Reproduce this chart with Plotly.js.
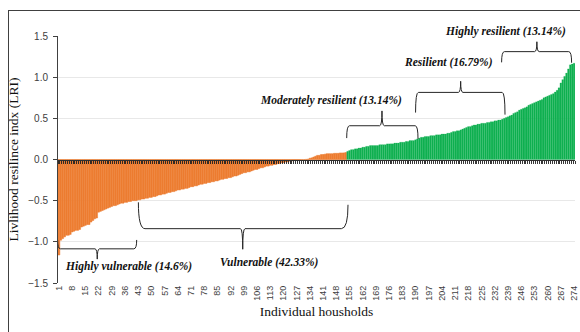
<!DOCTYPE html>
<html>
<head>
<meta charset="utf-8">
<script src="https://cdn.plot.ly/plotly-3.0.1.min.js"></script>
<style>
  html, body { margin: 0; padding: 0; background: #fff; }
  #wrap { position: relative; width: 580px; height: 332px; }
  #chart { width: 580px; height: 332px; }
  #frame { position: absolute; left: 8px; top: 10px; right: -2px; bottom: -2px;
           border-left: 1px solid #404040; border-top: 1px solid #404040; pointer-events: none; }
</style>
</head>
<body>
<div id="wrap"><div id="chart"></div><div id="frame"></div></div>
<script>
// Household LRI values, sorted ascending
const orangeLRI = [
  -1.16, -0.98, -0.96, -0.94, -0.92, -0.92, -0.91,
  -0.88, -0.87, -0.86, -0.86, -0.85,
  -0.82, -0.81, -0.80, -0.79, -0.79,
  -0.76, -0.74, -0.72, -0.71,
  -0.64, -0.63, -0.62, -0.61, -0.60,
  -0.59, -0.58, -0.57, -0.56, -0.56,
  -0.55, -0.54, -0.53, -0.53, -0.52, -0.52, -0.51,
  -0.51, -0.50, -0.50, -0.50, -0.49, -0.49,
  -0.48, -0.48, -0.47, -0.47,
  -0.46, -0.46, -0.45, -0.45,
  -0.44, -0.43, -0.43, -0.42, -0.42,
  -0.41, -0.40, -0.40, -0.39, -0.39,
  -0.38, -0.37, -0.37, -0.36, -0.36, -0.35, -0.35,
  -0.34, -0.33, -0.33, -0.32, -0.32, -0.31,
  -0.30, -0.30, -0.29, -0.29, -0.28,
  -0.28, -0.27, -0.27, -0.26, -0.26, -0.25,
  -0.24, -0.24, -0.23, -0.23, -0.22,
  -0.22, -0.21, -0.20, -0.20, -0.19,
  -0.18, -0.17, -0.16, -0.16, -0.15, -0.15,
  -0.14, -0.13, -0.12, -0.12, -0.11, -0.10,
  -0.10, -0.09, -0.08, -0.08, -0.07, -0.07,
  -0.06, -0.06, -0.05, -0.05, -0.04, -0.04,
  -0.03, -0.03, -0.02, -0.02, -0.015, -0.01,
  -0.01, -0.005, -0.003, 0.0, 0.0, 0.002, 0.005,
  0.015, 0.02, 0.03, 0.04,
  0.05, 0.05, 0.06, 0.06,
  0.065, 0.07, 0.07, 0.07, 0.07, 0.075, 0.075, 0.075, 0.08, 0.08, 0.08, 0.085
];
const greenLRI = [
  0.10, 0.11, 0.12, 0.12, 0.13, 0.13,
  0.14, 0.14, 0.15, 0.15, 0.16, 0.16,
  0.17, 0.17, 0.17, 0.17, 0.17, 0.18,
  0.18, 0.18, 0.18, 0.19, 0.19, 0.19,
  0.19, 0.20, 0.20, 0.20, 0.21, 0.21,
  0.21, 0.22, 0.22, 0.23, 0.23, 0.23,
  0.24, 0.25, 0.26, 0.27, 0.27, 0.28,
  0.28, 0.28, 0.29, 0.29, 0.29, 0.30,
  0.30, 0.30, 0.31, 0.31, 0.31, 0.32,
  0.32, 0.33, 0.34, 0.34, 0.35, 0.35,
  0.36, 0.37, 0.38, 0.39, 0.40, 0.40,
  0.41, 0.42, 0.42, 0.43, 0.43, 0.44,
  0.44, 0.44, 0.45, 0.45, 0.46, 0.46,
  0.47, 0.47, 0.48, 0.48, 0.49, 0.50,
  0.51, 0.52, 0.53, 0.54, 0.56, 0.57,
  0.58, 0.60, 0.61, 0.62, 0.63, 0.64,
  0.66, 0.67, 0.68, 0.69, 0.70, 0.71,
  0.72, 0.73, 0.75, 0.76, 0.77, 0.78,
  0.79, 0.80, 0.82, 0.84, 0.87, 0.93,
  0.97, 1.01, 1.05, 1.10, 1.15, 1.16, 1.17
];
const tickLabels = ['1','8','15','22','29','36','43','50','57','64','71','78','85','92','99','106','113','120','127','134','141','148','155','162','169','176','183','190','197','204','211','218','225','232','239','246','253','260','267','274'];

// Group labels and brace geometry (household index / LRI units)
const groupLabels = ['Highly vulnerable (14.6%)', 'Vulnerable (42.33%)', 'Moderately resilient (13.14%)', 'Resilient (16.79%)', 'Highly resilient (13.14%)'];
const labelX = [37.6, 112.5, 145.0, 207.2, 237.9];
const labelY = [-1.30, -1.255, 0.715, 1.18, 1.55];
// [x0, x1, yEnd0, yEnd1, yLine, xTip, yTip, curve]
const braces = [
  [0.3, 42.2, -0.977, -0.977, -1.085, 21.3, -1.21, 1.5],
  [43.1, 154.2, -0.52, -0.55, -0.84, 98.4, -1.09, 3.5],
  [153.5, 191.3, 0.26, 0.25, 0.41, 172.2, 0.59, 1.5],
  [190.0, 237.4, 0.57, 0.545, 0.815, 213.9, 0.95, 1.5],
  [235.6, 272.7, 1.18, 1.175, 1.31, 254.3, 1.43, 1.5]
];

const xOrange = orangeLRI.map((_, i) => i + 1);
const xGreen = greenLRI.map((_, i) => orangeLRI.length + i + 1);
const tickVals = tickLabels.map(Number);
const yMin = -1.5, yMax = 1.5;

function bracePath(b) {
  const [x0, x1, ye0, ye1, yl, xt, yt, c] = b;
  const s = 1.2;
  return `M ${x0},${ye0} Q ${x0},${yl} ${x0 + c},${yl} L ${xt - s},${yl} Q ${xt},${yl} ${xt},${yt} ` +
         `Q ${xt},${yl} ${xt + s},${yl} L ${x1 - c},${yl} Q ${x1},${yl} ${x1},${ye1}`;
}

const traces = [
  { type: 'bar', x: xOrange, y: orangeLRI, marker: { color: '#ED7D31', line: { width: 0.5, color: '#ED7D31' } }, hoverinfo: 'x+y' },
  { type: 'bar', x: xGreen, y: greenLRI, marker: { color: '#0FB050', line: { width: 0.2, color: '#0FB050' } }, hoverinfo: 'x+y' },
  // invisible trace to carry the zero-line axis with category tick marks
  { type: 'scatter', x: [0.5, 274.5], y: [0, 0], xaxis: 'x2', mode: 'lines',
    line: { width: 0 }, hoverinfo: 'skip', showlegend: false }
];

const serif = '"Liberation Serif", "Times New Roman", serif';
const layout = {
  width: 580, height: 332,
  margin: { l: 58, r: 5, t: 36, b: 49 },
  paper_bgcolor: '#ffffff', plot_bgcolor: '#ffffff',
  showlegend: false,
  bargap: 0.05,
  barmode: 'overlay',
  font: { family: '"Liberation Sans", Arial, sans-serif', color: '#404040' },
  xaxis: {
    range: [0.5, 274.5], tickmode: 'array', tickvals: tickVals, ticktext: tickLabels,
    tickangle: -90, tickfont: { size: 9, color: '#404040' }, showgrid: false, zeroline: false,
    showline: false, ticks: '', fixedrange: true,
    title: { text: 'Individual housholds', font: { family: serif, size: 13.5, color: '#111' }, standoff: 6 }
  },
  xaxis2: {
    range: [0.5, 274.5], overlaying: 'x', anchor: 'free', position: 0.5, side: 'bottom',
    showline: true, linecolor: '#303030', linewidth: 1.2,
    ticks: 'outside', tick0: 0.5, dtick: 1, ticklen: 3.5, tickwidth: 0.9, tickcolor: '#202020',
    showticklabels: false, showgrid: false, zeroline: false
  },
  yaxis: {
    range: [yMin, yMax], dtick: 0.5, tickformat: '.1f', showgrid: true, gridcolor: '#e8e8e8', gridwidth: 1,
    zeroline: false, showline: true, linecolor: '#404040', linewidth: 1, ticks: 'outside', ticklen: 4,
    tickcolor: '#404040', tickfont: { size: 10, color: '#404040' }, ticklabelstandoff: 3,
    title: { text: 'Livlihood resilince indx (LRI)', font: { family: serif, size: 13.5, color: '#111' }, standoff: 6 }
  },
  shapes: braces.map(b => ({ type: 'path', xref: 'x', yref: 'y', path: bracePath(b),
    line: { color: '#262626', width: 1 }, layer: 'above' })),
  annotations: groupLabels.map((t, i) => ({
    text: '<b><i>' + t + '</i></b>', x: labelX[i], xref: 'x',
    y: (labelY[i] - yMin) / (yMax - yMin), yref: 'paper',
    showarrow: false, xanchor: 'center', yanchor: 'middle',
    font: { family: serif, size: 11.5, color: '#111' }
  }))
};

Plotly.newPlot('chart', traces, layout, { displayModeBar: false, staticPlot: true });
</script>
</body>
</html>
